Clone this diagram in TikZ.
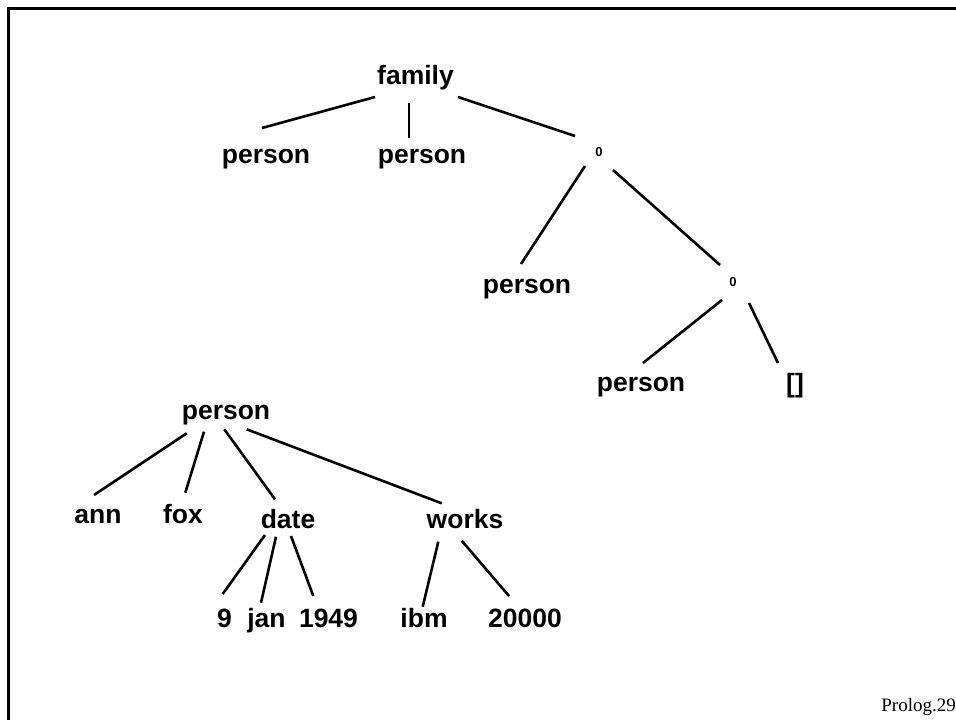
\documentclass[tikz,border=0pt]{standalone}
\usepackage{fontspec}
\setmainfont{Liberation Sans}
\newfontfamily\serifprolog{Liberation Serif}
\begin{document}
\begin{tikzpicture}[x=1pt,y=-1pt,
  term/.style={anchor=base,inner sep=0pt,font=\fontsize{26.5}{29}\selectfont\bfseries},
  dotterm/.style={anchor=center,inner sep=0pt,font=\fontsize{13}{13}\selectfont\bfseries},
  edge/.style={line width=2.6pt,line cap=butt},
  frame/.style={line width=2.7pt}]
\useasboundingbox (0,0) rectangle (956,720);
\draw[frame] (8.7,720) -- (8.7,8.7) -- (956,8.7);
% upper tree
\node[term] (family) at (415.5,84) {family};
\node[term] (p1) at (266,163) {person};
\node[term] (p2) at (422,163) {person};
\node[dotterm] (d1) at (599,152) {0};
\node[term] (p3) at (527,293) {person};
\node[dotterm] (d2) at (733,282) {0};
\node[term] (p4) at (641,391) {person};
\node[term] (nil) at (795,392) {[]};
\draw[edge] ([shift={(-40.5,13)}]family.base) -- ([shift={(-4,-35)}]p1.base);
\draw[edge] ([shift={(-6.5,19)}]family.base) -- ([shift={(-13,-25)}]p2.base);
\draw[edge] ([shift={(42.5,13)}]family.base) -- ([shift={(-24,-16)}]d1.center);
\draw[edge] ([shift={(-14,14)}]d1.center) -- ([shift={(-6,-29)}]p3.base);
\draw[edge] ([shift={(14,18)}]d1.center) -- ([shift={(-13,-17)}]d2.center);
\draw[edge] ([shift={(-11,18)}]d2.center) -- ([shift={(2,-28)}]p4.base);
\draw[edge] ([shift={(16,21)}]d2.center) -- ([shift={(-17,-29)}]nil.base);
% lower tree
\node[term] (p5) at (226,419) {person};
\node[term] (ann) at (98,523) {ann};
\node[term] (fox) at (183,523) {fox};
\node[term] (date) at (288,528) {date};
\node[term] (works) at (465,528) {works};
\node[term] (n9) at (224.5,627) {9};
\node[term] (jan) at (266.5,627) {jan};
\node[term] (yr) at (328.5,627) {1949};
\node[term] (ibm) at (424,627) {ibm};
\node[term] (sal) at (525,627) {20000};
\draw[edge] ([shift={(-39.3,14.3)}]p5.base) -- ([shift={(-4,-28)}]ann.base);
\draw[edge] ([shift={(-22,12.7)}]p5.base) -- ([shift={(2.3,-30.3)}]fox.base);
\draw[edge] ([shift={(-1.7,10.3)}]p5.base) -- ([shift={(-13,-28.7)}]date.base);
\draw[edge] ([shift={(20.7,10.3)}]p5.base) -- ([shift={(-23.3,-24.7)}]works.base);
\draw[edge] ([shift={(-23,7)}]date.base) -- ([shift={(-1.8,-33)}]n9.base);
\draw[edge] ([shift={(-12,8.7)}]date.base) -- ([shift={(-5.5,-24.3)}]jan.base);
\draw[edge] ([shift={(3,8)}]date.base) -- ([shift={(-15.2,-31)}]yr.base);
\draw[edge] ([shift={(-26.7,13.7)}]works.base) -- ([shift={(-1.3,-20.3)}]ibm.base);
\draw[edge] ([shift={(-3.3,12.7)}]works.base) -- ([shift={(-16,-31)}]sal.base);
% page label
\node[anchor=base east,inner sep=0pt,font=\serifprolog\fontsize{19}{20}\selectfont] (lbl) at (956,711) {Prolog.29};
\end{tikzpicture}
\end{document}
